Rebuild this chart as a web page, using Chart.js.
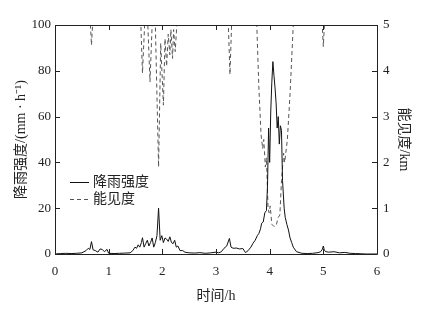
<!DOCTYPE html>
<html>
<head>
<meta charset="utf-8">
<script src="https://cdn.jsdelivr.net/npm/chart.js@4/dist/chart.umd.min.js"></script>
<style>
html,body{margin:0;padding:0;background:#fff;}
canvas{display:block;}
</style>
</head>
<body>
<canvas id="c" width="438" height="314"></canvas>
<script>
// ---- data ----
const xTicks = [0, 1, 2, 3, 4, 5, 6];
const rainTicks = [0, 20, 40, 60, 80, 100];
const visTicks = [0, 1, 2, 3, 4, 5];
const seriesNames = ['降雨强度', '能见度'];

const rainTime = [0,0.1,0.2,0.3,0.4,0.5,0.58,0.62,0.65,0.68,0.71,0.75,0.8,0.84,0.88,0.92,0.97,1.0,1.1,1.2,1.3,1.4,1.45,1.49,1.52,1.55,1.58,1.61,1.63,1.66,1.69,1.72,1.75,1.78,1.81,1.84,1.87,1.9,1.93,1.96,1.99,2.02,2.05,2.08,2.11,2.14,2.17,2.2,2.23,2.26,2.29,2.33,2.38,2.42,2.5,2.6,2.7,2.8,2.9,3.0,3.05,3.1,3.15,3.2,3.25,3.28,3.32,3.38,3.44,3.5,3.55,3.6,3.65,3.69,3.73,3.77,3.8,3.83,3.85,3.88,3.91,3.94,3.96,3.98,4.0,4.02,4.04,4.06,4.08,4.1,4.12,4.14,4.16,4.18,4.2,4.22,4.24,4.27,4.29,4.32,4.35,4.38,4.41,4.44,4.5,4.6,4.7,4.8,4.9,4.95,4.98,5.0,5.02,5.05,5.1,5.2,5.3,5.4,5.5,5.6,5.7,5.8,6.0];
const rainValue = [0,0.2,0.3,0.2,0.3,0.5,1.5,2.5,2,5.4,1.8,1.5,0.8,2.2,2,1,2,0.3,0.2,0.3,0.4,0.5,1.5,3,2.5,4,3,5,7.1,3,4.5,6,3.5,5,7,3,5,8,20,6,8,5,7,6.5,5.5,7.5,5,4.5,6,3,3.5,1.5,1.5,0.8,0.5,0.4,0.6,0.3,0.5,0.8,0.5,1,2.5,3.5,6.8,3,2.5,2.6,2.2,2.4,0.6,1.5,3,4.7,6,8,9,11,13.4,14,18,19,30,55,40,62,75,84,78,72.5,66,55,60,48,56,54,32,20,16,13,10.5,7,5,3,1,0.3,0.2,0.3,0.6,1,2,3.5,1.5,1,0.8,1,0.5,0.7,0.3,0.2,0.1,0,0];

const visTime = [0,0.66,0.68,0.70,1.60,1.63,1.67,1.73,1.77,1.81,1.87,1.93,1.97,2.02,2.05,2.08,2.11,2.14,2.16,2.19,2.21,2.24,2.27,3.23,3.26,3.29,3.76,3.80,3.84,3.87,3.89,3.92,3.94,3.97,3.99,4.01,4.04,4.08,4.12,4.16,4.19,4.22,4.26,4.28,4.33,4.38,4.44,4.98,5.0,5.02,6.0];
const visValue = [5,5,4.56,5,5,3.95,5,5,3.76,5,5,1.9,4.6,3.25,4.7,4.1,4.8,4.35,4.9,4.27,4.9,4.42,5,5,3.92,5,5,3.6,2.6,2.3,2.5,1.9,2.1,1.0,0.9,1.05,0.65,0.6,0.62,0.8,0.85,1.6,2.2,2.0,2.5,3.5,5,5,4.53,5,5];

// ---- chart ----
const FONT = "'Liberation Serif', 'Times New Roman', 'Noto Sans CJK SC', serif";
const INK = '#222';

const rainPts = rainTime.map((t, i) => ({x: t, y: rainValue[i]}));
const visPts = visTime.map((t, i) => ({x: t, y: visValue[i]}));

const frameTicks = {
  id: 'frameTicks',
  afterDatasetsDraw(chart) {
    const ctx = chart.ctx, a = chart.chartArea;
    const L = 5;
    ctx.save();
    ctx.strokeStyle = INK;
    ctx.lineWidth = 1;
    ctx.setLineDash([]);
    ctx.beginPath();
    ctx.rect(Math.round(a.left) + 0.5, Math.round(a.top) + 0.5, Math.round(a.right - a.left), Math.round(a.bottom - a.top));
    const xs = chart.scales.x;
    xs.ticks.forEach(t => {
      const px = Math.round(xs.getPixelForValue(t.value)) + 0.5;
      ctx.moveTo(px, a.bottom); ctx.lineTo(px, a.bottom - L);
      ctx.moveTo(px, a.top); ctx.lineTo(px, a.top + L);
    });
    const ys = chart.scales.y;
    ys.ticks.forEach(t => {
      const py = Math.round(ys.getPixelForValue(t.value)) + 0.5;
      ctx.moveTo(a.left, py); ctx.lineTo(a.left + L, py);
    });
    const y1 = chart.scales.y1;
    y1.ticks.forEach(t => {
      const py = Math.round(y1.getPixelForValue(t.value)) + 0.5;
      ctx.moveTo(a.right, py); ctx.lineTo(a.right - L, py);
    });
    ctx.stroke();

    // legend inside plot area
    const items = chart.data.datasets;
    ctx.font = "14px " + FONT;
    ctx.fillStyle = INK;
    ctx.textBaseline = 'middle';
    items.forEach((ds, i) => {
      const y = Math.round(a.top + 157 + i * 17) + 0.5;
      const x0 = a.left + 15;
      ctx.beginPath();
      ctx.strokeStyle = ds.borderColor;
      ctx.lineWidth = 1;
      ctx.setLineDash(ds.borderDash || []);
      ctx.moveTo(x0, y); ctx.lineTo(x0 + 19, y);
      ctx.stroke();
      ctx.setLineDash([]);
      ctx.fillText(ds.label, x0 + 23, y);
    });
    ctx.restore();
  }
};

new Chart(document.getElementById('c'), {
  type: 'line',
  data: {
    datasets: [
      {label: seriesNames[0], data: rainPts, yAxisID: 'y', borderColor: '#111', borderWidth: 1, pointRadius: 0, tension: 0},
      {label: seriesNames[1], data: visPts, yAxisID: 'y1', borderColor: '#555', borderWidth: 1, borderDash: [4, 3], pointRadius: 0, tension: 0}
    ]
  },
  options: {
    responsive: false,
    animation: false,
    layout: {padding: {top: 25, left: 0, right: 0, bottom: 0}},
    plugins: {legend: {display: false}, tooltip: {enabled: false}},
    scales: {
      x: {
        type: 'linear', min: 0, max: 6,
        afterBuildTicks: s => { s.ticks = xTicks.map(v => ({value: v})); },
        afterFit: s => { s.height = 60; },
        grid: {display: false, drawTicks: false},
        border: {display: false},
        ticks: {color: INK, font: {family: FONT, size: 13}, padding: 10, maxRotation: 0},
        title: {display: true, text: '时间/h', color: INK, font: {family: FONT, size: 14}, padding: {top: 0, bottom: 9}}
      },
      y: {
        position: 'left', min: 0, max: 100,
        afterBuildTicks: s => { s.ticks = rainTicks.map(v => ({value: v})); },
        afterFit: s => { s.width = 55; },
        grid: {display: false, drawTicks: false},
        border: {display: false},
        ticks: {color: INK, font: {family: FONT, size: 13}, padding: 4},
        title: {display: true, text: '降雨强度/(mm · h⁻¹)', color: INK, font: {family: FONT, size: 14}, padding: {top: 13, bottom: 0}}
      },
      y1: {
        position: 'right', min: 0, max: 5,
        afterBuildTicks: s => { s.ticks = visTicks.map(v => ({value: v})); },
        afterFit: s => { s.width = 61; },
        grid: {display: false, drawTicks: false},
        border: {display: false},
        ticks: {color: INK, font: {family: FONT, size: 13}, padding: 6},
        title: {display: true, text: '能见度/km', color: INK, font: {family: FONT, size: 14}, padding: {top: 26, bottom: 0}}
      }
    }
  },
  plugins: [frameTicks]
});
</script>
</body>
</html>
